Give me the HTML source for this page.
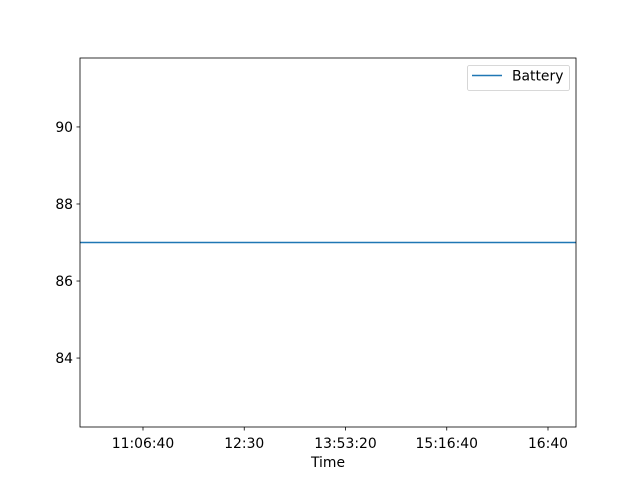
<!DOCTYPE html>
<html><head><meta charset="utf-8"><style>
body{margin:0;background:#fff}
svg{display:block;font-family:"DejaVu Sans","Liberation Sans",sans-serif}
</style></head><body>
<svg id="chart" width="640" height="480">
<rect x="0" y="0" width="640" height="480" fill="#fff"/>
<g id="plot"></g>
</svg>
<script>
const times = [36889, 61383]; // seconds since midnight
const battery = [87, 87];
const yTicks = [84, 86, 88, 90];
const xTickSecs = [40000, 45000, 50000, 55000, 60000];
const xTickLabels = ["11:06:40", "12:30", "13:53:20", "15:16:40", "16:40"];
const L=80,R=576,T=58,B=427;
const xmin=36889,xmax=61383,ymin=82.21,ymax=91.79;
const sx=v=>L+(v-xmin)/(xmax-xmin)*(R-L);
const sy=v=>B-(v-ymin)/(ymax-ymin)*(B-T);
const NS="http://www.w3.org/2000/svg";
const g=document.getElementById('plot');
function mk(tag,attrs,parent){const e=document.createElementNS(NS,tag);for(const k in attrs)e.setAttribute(k,attrs[k]);(parent||g).appendChild(e);return e;}
const pts=times.map((t,i)=>sx(t)+','+sy(battery[i])).join(' ');
const line=mk('polyline',{points:pts,fill:'none',stroke:'#1f77b4','stroke-width':1.5});


const frame=mk('rect',{x:L,y:T,width:R-L,height:B-T,fill:'none',stroke:'#000','stroke-width':0.8});


yTicks.forEach(v=>{
  const y=sy(v);
  const t=mk('line',{x1:L-3.5,x2:L,y1:y,y2:y,stroke:'#000','stroke-width':0.8});
  
  
  const l=mk('text',{x:L-7,y:y+5,'text-anchor':'end','font-size':13.9});
  l.textContent=v;
  
  
});
xTickSecs.forEach((v,i)=>{
  const x=sx(v);
  const t=mk('line',{x1:x,x2:x,y1:B,y2:B+3.5,stroke:'#000','stroke-width':0.8});
  
  
  const l=mk('text',{x:x,y:B+21,'text-anchor':'middle','font-size':13.9});
  l.textContent=xTickLabels[i];
  
  
});
</script>
<svg style="position:absolute;left:0;top:0" width="640" height="480">
<text x="328" y="467" text-anchor="middle" font-size="13.9">Time</text>
<g>
<rect x="467.5" y="65.5" width="102" height="25" rx="2" fill="#fff" fill-opacity="0.8" stroke="#ccc" stroke-width="0.8"/>
<line x1="472" x2="502" y1="75.5" y2="75.5" stroke="#1f77b4" stroke-width="1.5"/>
<text x="512" y="80.5" font-size="13.9">Battery</text>
</g>
</svg>
</body></html>
